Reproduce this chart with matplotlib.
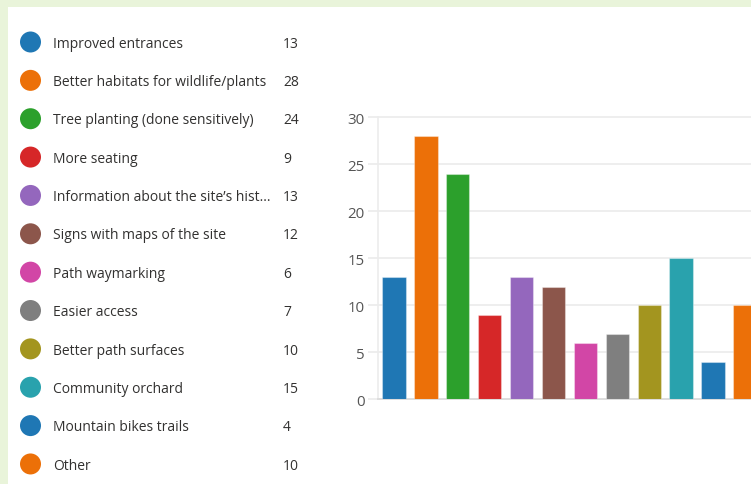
import matplotlib
matplotlib.use('Agg')
import matplotlib.pyplot as plt
from matplotlib.patches import Rectangle, Circle

# ── data ──
labels = [
    'Improved entrances',
    'Better habitats for wildlife/plants',
    'Tree planting (done sensitively)',
    'More seating',
    'Information about the site\u2019s hist...',
    'Signs with maps of the site',
    'Path waymarking',
    'Easier access',
    'Better path surfaces',
    'Community orchard',
    'Mountain bikes trails',
    'Other',
]
counts = [13, 28, 24, 9, 13, 12, 6, 7, 10, 15, 4, 10]
colors = ['#1f77b4', '#ec7008', '#2ca02c', '#d62728', '#9467bd', '#8c564b',
          '#d246a6', '#7f7f7f', '#a3951f', '#29a2ad', '#1f77b4', '#ec7008']
yticks = [0, 5, 10, 15, 20, 25, 30]

W, H = 751, 485
plt.rcParams['font.family'] = ['Open Sans', 'DejaVu Sans']
text_col = '#323130'

fig = plt.figure(figsize=(W / 100, H / 100), dpi=100)
fig.patch.set_facecolor('#e9f4da')

# overlay in pixel coords for panel + legend
ov = fig.add_axes([0, 0, 1, 1])
ov.set_xlim(0, W)
ov.set_ylim(H, 0)
ov.axis('off')
ov.add_patch(Rectangle((8, 8), W, H, facecolor='white', edgecolor='none'))

row0, step = 43, 38.36
for i, (lab, n, c) in enumerate(zip(labels, counts, colors)):
    y = row0 + i * step
    ov.add_patch(Circle((30.5, y), 10.5, facecolor=c, edgecolor='none'))
    ov.text(53, y + 1.2, lab, fontsize=10, color=text_col, va='center', ha='left')
    ov.text(283, y + 1.2, str(n), fontsize=10, color=text_col, va='center', ha='left')

# ── bar chart ──
ax = fig.add_axes([378 / W, 1 - 400.3 / H, 1 - 378 / W, (400.3 - 118.3) / H])
ax.patch.set_alpha(0)
x = list(range(len(counts)))
ax.bar(x, counts, width=0.73, color=colors,
       edgecolor=(1, 1, 1, 0.35), linewidth=0.8, zorder=3)
ax.set_xlim(-0.5, 11.19)
ax.set_ylim(0, 30)
ax.set_yticks(yticks)
ax.set_xticks([])
ax.grid(axis='y', color='#ebebeb', linewidth=1.2, zorder=0)
for gl in ax.get_ygridlines():
    gl.set_clip_on(False)
ax.tick_params(axis='y', length=7, width=1.2, color='#ebebeb',
               labelsize=10.8, labelcolor='#555555', pad=2.5)
for s in ['top', 'right']:
    ax.spines[s].set_visible(False)
ax.spines['left'].set_color('#ececec')
ax.spines['left'].set_linewidth(1.2)
ax.spines['bottom'].set_color('#dddddd')
ax.spines['bottom'].set_linewidth(1.4)
ax.set_axisbelow(True)

plt.savefig('out.png', dpi=100)
